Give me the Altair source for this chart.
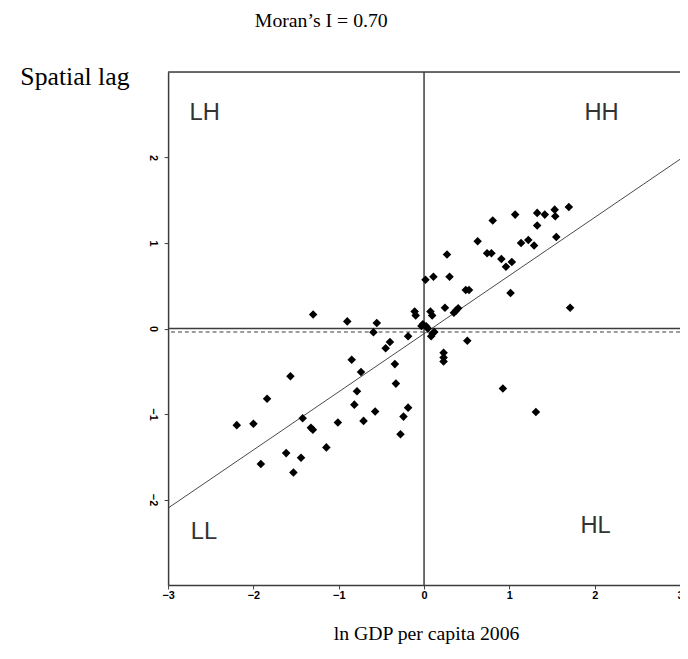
import altair as alt
import pandas as pd

# ---- data ----
gdp = [-1.30, -0.90, -0.554, -0.593, -0.40, -0.45, -0.848, -0.739, -0.342, -0.33,
       -1.566, -1.84, -0.786, -0.817, -0.573, -0.709, -1.01, -1.423, -1.326, -1.303,
       -2.0, -2.195, -1.145, -1.616, -1.442, -1.913, -1.531, -0.276, -0.241, -0.187,
       -0.187, -0.11, -0.098, -0.014, -0.03,
       0.025, 0.044, 0.10, 0.12, 0.083, 0.075, 0.095, 0.245, 0.35, 0.375, 0.40,
       0.507, 0.229, 0.229, 0.229, 0.924, 1.311, 0.017, 0.11, 0.299, 0.489, 0.527,
       1.014, 1.712, 0.269, 0.628, 0.739, 0.79, 0.906, 1.029, 0.96, 0.805, 1.068,
       1.326, 1.415, 1.326, 1.531, 1.538, 1.697, 1.55, 1.222, 1.137, 1.29]
lag = [0.165, 0.084, 0.065, -0.043, -0.158, -0.231, -0.366, -0.509, -0.416, -0.644,
       -0.559, -0.821, -0.733, -0.89, -0.971, -1.08, -1.098, -1.049, -1.16, -1.184,
       -1.114, -1.13, -1.39, -1.457, -1.511, -1.584, -1.684, -1.237, -1.03, -0.925,
       -0.089, 0.20, 0.154, 0.05, 0.03,
       0.027, 0.0, -0.058, -0.04, -0.089, 0.20, 0.154, 0.243, 0.185, 0.21, 0.238,
       -0.143, -0.282, -0.34, -0.386, -0.702, -0.976, 0.57, 0.605, 0.605, 0.451, 0.451,
       0.416, 0.243, 0.867, 1.021, 0.882, 0.882, 0.813, 0.778, 0.724, 1.264, 1.333,
       1.353, 1.333, 1.206, 1.391, 1.313, 1.422, 1.071, 1.036, 1.001, 0.971]

slope = 0.68
intercept = -0.06
mean_lag = -0.04

x_domain = [-3, 3]
y_domain = [-3, 3]
x_ticks = [-3, -2, -1, 0, 1, 2, 3]
y_ticks = [-2, -1, 0, 1, 2]

quad_labels = ["LH", "HH", "LL", "HL"]
quad_x = [-2.57, 2.08, -2.58, 2.01]
quad_y = [2.525, 2.525, -2.38, -2.31]

# ---- tables ----
pts = pd.DataFrame({"x": gdp, "y": lag})
reg = pd.DataFrame({"x": x_domain, "y": [slope * v + intercept for v in x_domain]})
vline = pd.DataFrame({"x": [0]})
hline = pd.DataFrame({"y": [0]})
mline = pd.DataFrame({"y": [mean_lag]})
top = pd.DataFrame({"y": [y_domain[1]]})
quads = pd.DataFrame({"label": quad_labels, "x": quad_x, "y": quad_y})

LINE = "#3c3c3c"
xs = alt.Scale(domain=x_domain, nice=False, zero=False)
ys = alt.Scale(domain=y_domain, nice=False, zero=False)

x_axis = alt.Axis(values=x_ticks, format="d", title="ln GDP per capita 2006", grid=False,
                  labelFont="Liberation Sans", labelFontSize=11, labelFontWeight="bold",
                  labelColor="black", labelFlush=False, labelOverlap=False, labelPadding=1,
                  tickSize=4, tickColor=LINE, domainColor=LINE, domainWidth=1.5,
                  titleFont="Liberation Serif", titleFontSize=20, titleFontWeight="normal",
                  titleColor="black", titleY=55, titleX=261, titleAlign="center",
                  titleBaseline="alphabetic")
y_axis = alt.Axis(values=y_ticks, format="d", title="Spatial  lag", grid=False,
                  labelFont="Liberation Sans", labelFontSize=11, labelFontWeight="bold",
                  labelColor="black", labelAngle=90, labelAlign="center",
                  labelBaseline="top", labelPadding=6, labelFlush=False,
                  tickSize=4, tickColor=LINE, domainColor=LINE, domainWidth=1.5,
                  titleFont="Liberation Serif", titleFontSize=26, titleFontWeight="normal",
                  titleColor="black", titleAngle=0, titleAlign="left",
                  titleBaseline="alphabetic", titleX=-150, titleY=13)

points = alt.Chart(pts).mark_point(shape="diamond", filled=True, color="black",
                                   size=75, opacity=1).encode(
    x=alt.X("x:Q", scale=xs, axis=x_axis),
    y=alt.Y("y:Q", scale=ys, axis=y_axis),
)
reg_line = alt.Chart(reg).mark_line(color="#333333", strokeWidth=0.9, clip=True).encode(
    x="x:Q", y="y:Q")
v_rule = alt.Chart(vline).mark_rule(color=LINE, strokeWidth=1.5).encode(x="x:Q")
h_rule = alt.Chart(hline).mark_rule(color=LINE, strokeWidth=1.5).encode(y="y:Q")
m_rule = alt.Chart(mline).mark_rule(color=LINE, strokeWidth=1.2,
                                    strokeDash=[4, 3]).encode(y="y:Q")
t_rule = alt.Chart(top).mark_rule(color=LINE, strokeWidth=1.5).encode(y="y:Q")
q_text = alt.Chart(quads).mark_text(font="Liberation Sans", fontSize=24,
                                    fontWeight=300, color="#333333").encode(
    x="x:Q", y="y:Q", text="label:N")

chart = alt.layer(v_rule, h_rule, m_rule, t_rule, reg_line, points, q_text).properties(
    width=518, height=519,
    autosize=alt.AutoSizeParams(type="none"),
    padding={"left": 162, "top": 61, "right": 0, "bottom": 71},
    title=alt.Title("Moran’s I = 0.70", font="Liberation Serif", fontSize=20,
                    fontWeight="normal", color="black", anchor="middle",
                    frame="group", dx=-104, offset=18, baseline="alphabetic"),
).configure_view(stroke=None).configure(background="white")

chart.save("out.html", embed_options={"renderer": "svg", "actions": False})
